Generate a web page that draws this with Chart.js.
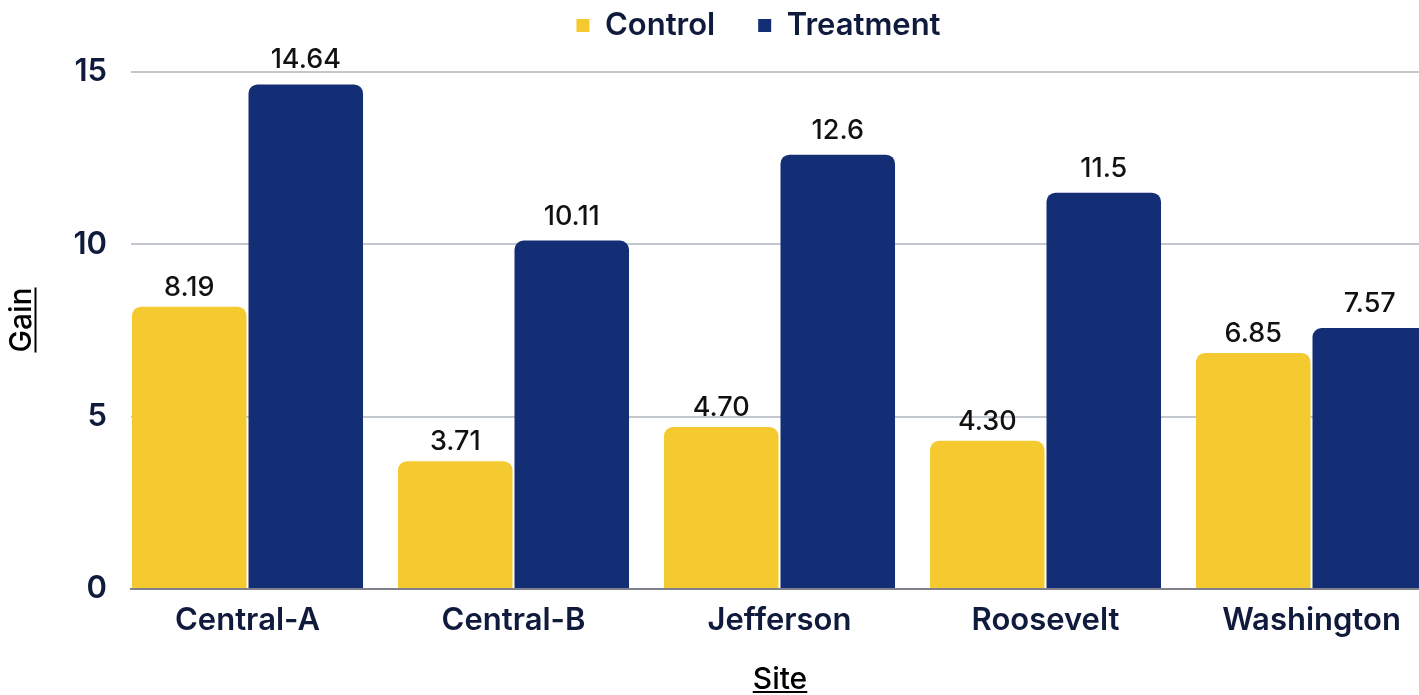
<!DOCTYPE html>
<html>
<head>
<meta charset="utf-8">
<script src="https://cdn.jsdelivr.net/npm/chart.js@4.4.1/dist/chart.umd.min.js"></script>
<style>
  html, body { margin: 0; padding: 0; background: #ffffff; overflow: hidden; }
  #wrap { width: 1518px; height: 695px; }
</style>
</head>
<body>
<div id="wrap"><canvas id="c" width="1518" height="695"></canvas></div>
<script>
// ---- data ----
const sites = ['Central-A', 'Central-B', 'Jefferson', 'Roosevelt', 'Washington'];
const controlValues = [8.19, 3.71, 4.70, 4.30, 6.85];
const treatmentValues = [14.64, 10.11, 12.6, 11.5, 7.57];
const controlLabels = ['8.19', '3.71', '4.70', '4.30', '6.85'];
const treatmentLabels = ['14.64', '10.11', '12.6', '11.5', '7.57'];
const yTickValues = [0, 5, 10, 15];

const YELLOW = '#F5C930';
const NAVY = '#142E76';
const INK = '#0F1A3C';
const LEGEND_SHIFT = 44;

Chart.defaults.font.family = 'Inter';

const valueLabelPlugin = {
  id: 'valueLabels',
  afterDatasetsDraw(chart) {
    const ctx = chart.ctx;
    ctx.save();
    ctx.font = '500 27px Inter';
    ctx.fillStyle = '#111111';
    ctx.textAlign = 'center';
    ctx.textBaseline = 'alphabetic';
    chart.data.datasets.forEach((ds, di) => {
      const meta = chart.getDatasetMeta(di);
      meta.data.forEach((el, i) => {
        ctx.fillText(ds.valueLabels[i], el.x, el.y - ds.labelGap);
      });
    });
    ctx.restore();
  }
};

const legendShiftPlugin = {
  id: 'legendShift',
  afterLayout(chart) {
    const lg = chart.legend;
    if (lg) { lg.left += LEGEND_SHIFT; lg.right += LEGEND_SHIFT; }
  }
};

const underlinePlugin = {
  id: 'underlineTitles',
  afterDraw(chart) {
    const ctx = chart.ctx;
    ['x', 'y'].forEach(id => {
      const s = chart.scales[id];
      const t = s.options.title;
      const font = Chart.helpers.toFont(t.font);
      const pad = Chart.helpers.toPadding(t.padding);
      ctx.save();
      ctx.font = font.string;
      const w = ctx.measureText(t.text).width;
      ctx.strokeStyle = t.color;
      ctx.lineWidth = 2;
      ctx.beginPath();
      if (id === 'x') {
        const cx = (s.left + s.right) / 2;
        const cy = s.bottom - pad.bottom - font.lineHeight / 2 + 12;
        ctx.moveTo(cx - w / 2, cy);
        ctx.lineTo(cx + w / 2, cy);
      } else {
        const cy = (s.top + s.bottom) / 2;
        const cx = s.left + pad.top + font.lineHeight / 2 + 13.5;
        ctx.moveTo(cx, cy - w / 2);
        ctx.lineTo(cx, cy + w / 2);
      }
      ctx.stroke();
      ctx.restore();
    });
  }
};

new Chart(document.getElementById('c'), {
  type: 'bar',
  data: {
    datasets: [
      {
        label: 'Control',
        data: controlValues.map((v, i) => ({ x: i, y: v })),
        valueLabels: controlLabels,
        labelGap: 11,
        backgroundColor: YELLOW,
        borderRadius: { topLeft: 9, topRight: 9, bottomLeft: 0, bottomRight: 0 },
        borderSkipped: false
      },
      {
        label: 'Treatment',
        data: treatmentValues.map((v, i) => ({ x: i, y: v })),
        valueLabels: treatmentLabels,
        labelGap: 16,
        backgroundColor: NAVY,
        borderRadius: { topLeft: 9, topRight: 9, bottomLeft: 0, bottomRight: 0 },
        borderSkipped: false
      }
    ]
  },
  options: {
    responsive: false,
    animation: false,
    devicePixelRatio: 1,
    layout: { padding: { top: -33, right: 89, bottom: 0, left: 0 } },
    datasets: {
      bar: { categoryPercentage: 0.876, barPercentage: 0.983 }
    },
    plugins: {
      legend: {
        position: 'top',
        labels: {
          boxWidth: 13,
          boxHeight: 13,
          padding: 43,
          color: INK,
          font: { size: 31, weight: '600' }
        }
      },
      tooltip: { enabled: false }
    },
    scales: {
      x: {
        type: 'linear',
        offset: false,
        min: -0.438,
        max: 4.4417,
        grid: { display: false, drawTicks: false, offset: false },
        border: { display: true, color: '#7E818A', width: 2 },
        afterBuildTicks(scale) {
          scale.ticks = sites.map((s, i) => ({ value: i }));
        },
        afterFit(scale) { scale.height = 106; },
        ticks: {
          autoSkip: false,
          maxRotation: 0,
          padding: 13,
          color: INK,
          font: { size: 31, weight: '600' },
          callback: (v) => sites[v]
        },
        title: {
          display: true,
          text: 'Site',
          color: '#000000',
          font: { size: 30, weight: '500', lineHeight: 1 },
          padding: { top: 0, bottom: 0 }
        }
      },
      y: {
        min: 0,
        max: 15.609,
        afterBuildTicks(scale) {
          scale.ticks = yTickValues.map(v => ({ value: v }));
        },
        afterFit(scale) { scale.width = 131; },
        grid: {
          drawTicks: false,
          lineWidth: 2,
          color: (c) => c.tick && c.tick.value === 0 ? '#7E818A' : '#C3C7CE'
        },
        border: { display: false },
        ticks: {
          padding: 24,
          color: INK,
          font: { size: 31, weight: '600' }
        },
        title: {
          display: true,
          text: 'Gain',
          color: '#000000',
          font: { size: 30, weight: '500', lineHeight: 1 },
          padding: { top: 7, bottom: 0 }
        }
      }
    }
  },
  plugins: [legendShiftPlugin, valueLabelPlugin, underlinePlugin]
});
</script>
</body>
</html>
